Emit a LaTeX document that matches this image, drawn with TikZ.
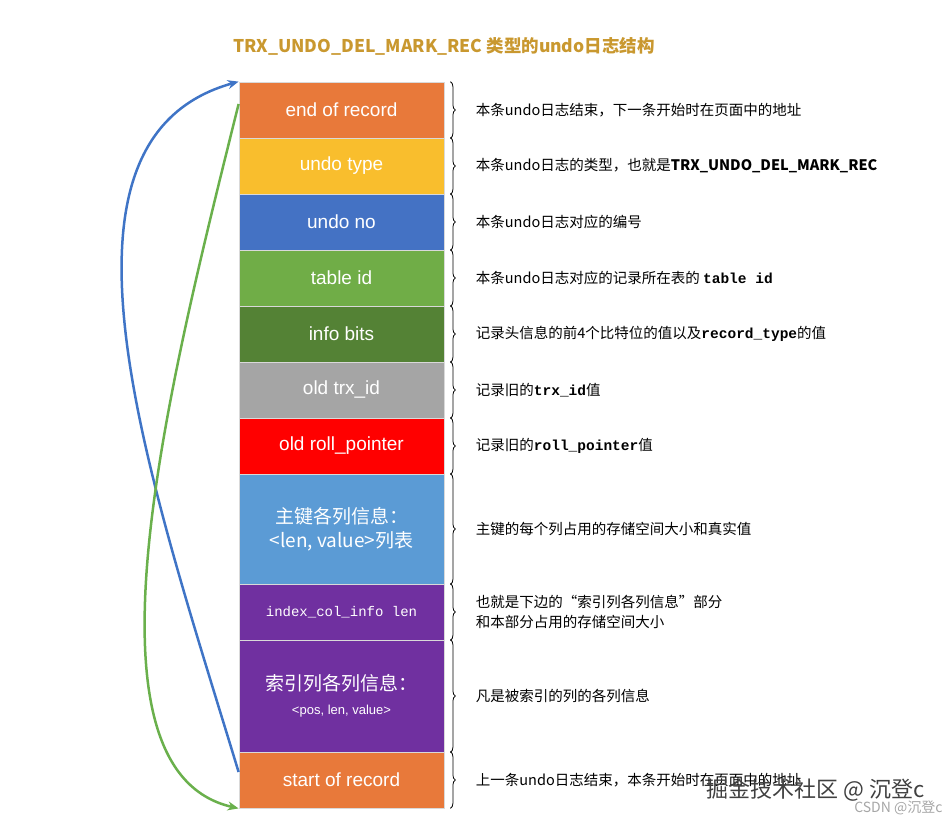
\documentclass[tikz,border=0pt]{standalone}
\usepackage{fontspec}
\setmainfont{Liberation Sans}
\setmonofont{Liberation Mono}
\newfontfamily\cjk{Noto Sans CJK SC}
\usetikzlibrary{decorations.pathreplacing,arrows.meta,calc}
\definecolor{cor}{HTML}{E8793A}
\definecolor{cye}{HTML}{F9BE2D}
\definecolor{cbl}{HTML}{4472C4}
\definecolor{cgr}{HTML}{70AD47}
\definecolor{cdg}{HTML}{548235}
\definecolor{cgy}{HTML}{A5A5A5}
\definecolor{crd}{HTML}{FF0000}
\definecolor{clb}{HTML}{5B9BD5}
\definecolor{cpu}{HTML}{7030A0}
\definecolor{ctitle}{HTML}{C9982F}
\definecolor{arrblue}{HTML}{3F74C6}
\definecolor{arrgreen}{HTML}{6AB04C}
\begin{document}
\begin{tikzpicture}[x=1pt,y=-1pt,
  rec/.style={draw=white!85!black,line width=0.8pt,minimum width=205pt,inner sep=0pt,text=white,font=\fontsize{19}{24}\selectfont,align=center},
  br/.style={decorate,decoration={brace,amplitude=5pt},thick},
  desc/.style={anchor=west,font=\cjk\fontsize{14.5}{20}\selectfont,align=left}]
\useasboundingbox (0,0) rectangle (950,826);
\node[font=\cjk\bfseries\fontsize{17.5}{20}\selectfont,text=ctitle] (title) at (444,46) {TRX\_UNDO\_DEL\_MARK\_REC 类型的undo日志结构};
\def\rows{{82,138,194,250,306,362,418,474,584,640,752,808}}
\foreach \i/\c/\t in {0/cor/end of record,1/cye/undo type,2/cbl/undo no,3/cgr/table id,4/cdg/info bits,5/cgy/old trx\_id,6/crd/old roll\_pointer,7/clb/{\cjk 主键各列信息：\\\cjk <len, value>列表},8/cpu/{\ttfamily\fontsize{14}{16}\selectfont index\_col\_info len},9/cpu/{\cjk 索引列各列信息：\\\fontsize{13}{16}\selectfont <pos, len, value>},10/cor/start of record}{
  \pgfmathsetmacro{\ya}{\rows[\i]}
  \pgfmathsetmacro{\yb}{\rows[\i+1]}
  \pgfmathsetmacro{\h}{\yb-\ya}
  \node[rec,fill=\c,minimum height=\h pt] (b\i) at (341.5,{(\ya+\yb)/2}) {\t};
  \draw[br] ($(b\i.north east)+(6,0)$) -- ($(b\i.south east)+(6,0)$);
}
\foreach \i/\t in {0/本条undo日志结束，下一条开始时在页面中的地址,1/{本条undo日志的类型，也就是\textbf{TRX\_UNDO\_DEL\_MARK\_REC}},2/本条undo日志对应的编号,3/本条undo日志对应的记录所在表的 {\ttfamily\bfseries table id},4/记录头信息的前4个比特位的值以及{\ttfamily\bfseries record\_type}的值,5/记录旧的{\ttfamily\bfseries trx\_id}值,6/记录旧的{\ttfamily\bfseries roll\_pointer}值,7/主键的每个列占用的存储空间大小和真实值,8/{也就是下边的“索引列各列信息”部分\\和本部分占用的存储空间大小},9/凡是被索引的列的各列信息,10/上一条undo日志结束，本条开始时在页面中的地址}{
  \node[desc] (d\i) at ($(b\i.east)+(28,0)$) {\t};
}
\draw[arrblue,line width=2.5pt,-{Stealth[length=11pt,width=9pt]}] ($(b10.west)+(0,-8)$) .. controls (150,480) and (30,140) .. (b0.north west);
\draw[arrgreen,line width=2.5pt,-{Stealth[length=11pt,width=9pt]}] ($(b0.west)+(0,-6)$) .. controls (170,380) and (70,770) .. (b10.south west);
\node[font=\cjk\fontsize{22}{24}\selectfont,text=black!75,anchor=east] (wm) at (928,790) {掘金技术社区 @ 沉登c};
\node[font=\cjk\fontsize{14}{15}\selectfont,text=black!35,anchor=east] (wm2) at (946,808) {CSDN @沉登c};
\end{tikzpicture}
\end{document}
